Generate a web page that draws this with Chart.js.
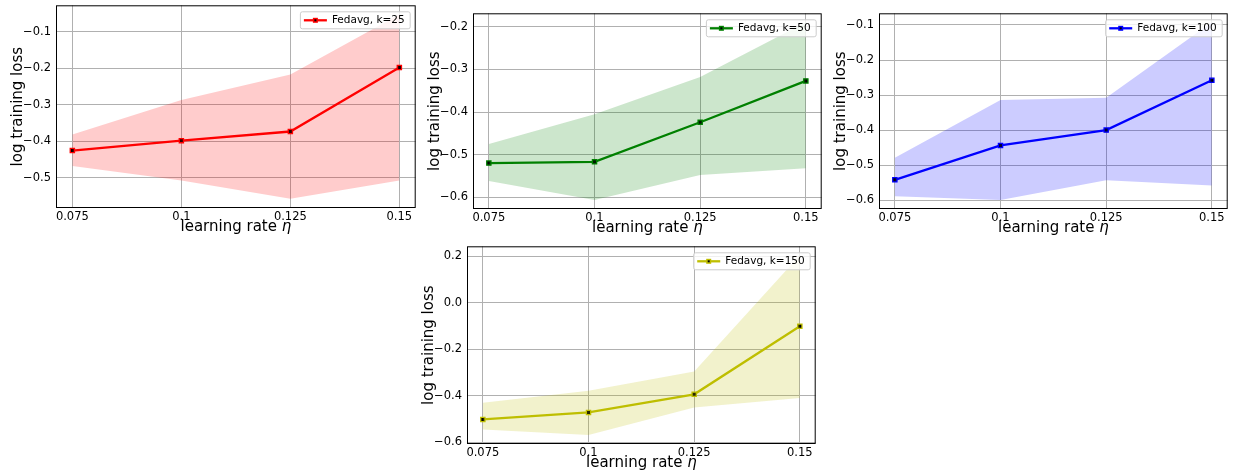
<!DOCTYPE html>
<html lang="en">
<head>
<meta charset="UTF-8">
<title>Fedavg - log training loss vs learning rate</title>
<style>
  body { margin: 0; background: #fff; width: 1233px; height: 475px; position: relative; overflow: hidden; }
  canvas { position: absolute; }
</style>
</head>
<body>
<canvas id="c25"></canvas>
<canvas id="c50"></canvas>
<canvas id="c100"></canvas>
<canvas id="c150"></canvas>

<script src="https://cdn.jsdelivr.net/npm/chart.js"></script>
<script>
// learning rates on the x axis
const etas = [0.075, 0.1, 0.125, 0.15];
const etaLabels = ['0.075', '0.1', '0.125', '0.15'];

// k = 25
const mean25  = [-0.425, -0.398, -0.373, -0.198];
const upper25 = [-0.381, -0.287, -0.217, -0.053];
const lower25 = [-0.467, -0.507, -0.557, -0.507];
const yTicks25 = [-0.5, -0.4, -0.3, -0.2, -0.1];

// k = 50
const mean50  = [-0.520, -0.517, -0.424, -0.327];
const upper50 = [-0.475, -0.405, -0.318, -0.189];
const lower50 = [-0.562, -0.607, -0.548, -0.532];
const yTicks50 = [-0.6, -0.5, -0.4, -0.3, -0.2];

// k = 100
const mean100  = [-0.542, -0.444, -0.400, -0.258];
const upper100 = [-0.479, -0.314, -0.308, -0.092];
const lower100 = [-0.589, -0.600, -0.543, -0.558];
const yTicks100 = [-0.6, -0.5, -0.4, -0.3, -0.2, -0.1];

// k = 150
const mean150  = [-0.502, -0.472, -0.394, -0.101];
const upper150 = [-0.430, -0.379, -0.296, 0.204];
const lower150 = [-0.545, -0.569, -0.451, -0.410];
const yTicks150 = [-0.6, -0.4, -0.2, 0.0, 0.2];

const panels = [
    { id: 'c25',  label: 'Fedavg, k=25',  color: '#ff0000', band: 'rgba(255,0,0,0.2)',   mean: mean25,  upper: upper25,  lower: lower25,  yTicks: yTicks25 },
    { id: 'c50',  label: 'Fedavg, k=50',  color: '#008000', band: 'rgba(0,128,0,0.2)',   mean: mean50,  upper: upper50,  lower: lower50,  yTicks: yTicks50 },
    { id: 'c100', label: 'Fedavg, k=100', color: '#0000ff', band: 'rgba(0,0,255,0.2)',   mean: mean100, upper: upper100, lower: lower100, yTicks: yTicks100 },
    { id: 'c150', label: 'Fedavg, k=150', color: '#bfbf00', band: 'rgba(191,191,0,0.2)', mean: mean150, upper: upper150, lower: lower150, yTicks: yTicks150 },
];

// plot-area rectangles on the page (layout only)
const boxes = [
    { x: 56,  y: 3,   w: 362, h: 205 },
    { x: 473, y: 11,  w: 351, h: 198 },
    { x: 879, y: 11,  w: 351, h: 198 },
    { x: 467, y: 244, w: 351, h: 200 },
];

const Y_AXIS_W = 56, PAD_TOP = 3, PAD_RIGHT = 3, X_AXIS_H = 32;
const FONT = '"DejaVu Sans", "Liberation Sans", sans-serif';

// matplotlib style 5% margins
function padRange(vals) {
    const lo = Math.min(...vals), hi = Math.max(...vals);
    const m = (hi - lo) * 0.05;
    return [lo - m, hi + m];
}

const fmt = v => v.toFixed(1).replace('-', '\u2212');

// frame, axis titles and the in-axes legend
const decorations = {
    id: 'decorations',
    afterDraw(chart, args, opts) {
        const { ctx, chartArea: a } = chart;
        ctx.save();
        ctx.strokeStyle = '#000';
        ctx.lineWidth = 1;
        ctx.strokeRect(a.left + 0.5, a.top + 0.5, a.right - a.left - 1, a.bottom - a.top - 1);

        // x title with italic eta
        ctx.fillStyle = '#000';
        ctx.textBaseline = 'alphabetic';
        ctx.font = '15px ' + FONT;
        const t1 = 'learning rate ';
        const w1 = ctx.measureText(t1).width;
        ctx.font = 'italic 15px ' + FONT;
        const w2 = ctx.measureText('\u03b7').width;
        let xs = (a.left + a.right) / 2 - (w1 + w2) / 2;
        ctx.font = '15px ' + FONT;
        ctx.textAlign = 'left';
        ctx.fillText(t1, xs, a.bottom + 23);
        ctx.font = 'italic 15px ' + FONT;
        ctx.fillText('\u03b7', xs + w1, a.bottom + 23);

        // y title
        ctx.save();
        ctx.translate(a.left - 38, (a.top + a.bottom) / 2);
        ctx.rotate(-Math.PI / 2);
        ctx.font = '15px ' + FONT;
        ctx.textAlign = 'center';
        ctx.textBaseline = 'middle';
        ctx.fillText('log training loss', 0, 0);
        ctx.restore();

        // legend
        ctx.font = '10.5px ' + FONT;
        const tw = ctx.measureText(opts.label).width;
        const bw = 4 + 23 + 5 + tw + 5, bh = 17;
        const bx = a.right - 6 - bw, by = a.top + 6;
        ctx.fillStyle = 'rgba(255,255,255,0.8)';
        ctx.strokeStyle = '#cccccc';
        ctx.beginPath();
        ctx.roundRect(bx + 0.5, by + 0.5, bw, bh, 2);
        ctx.fill();
        ctx.stroke();
        const ly = by + bh / 2 + 0.5;
        ctx.strokeStyle = opts.color;
        ctx.lineWidth = 2.3;
        ctx.beginPath();
        ctx.moveTo(bx + 4, ly);
        ctx.lineTo(bx + 27, ly);
        ctx.stroke();
        ctx.fillStyle = opts.color;
        ctx.fillRect(bx + 15.5 - 2.5, ly - 2.5, 5, 5);
        ctx.fillStyle = '#000';
        ctx.fillRect(bx + 15.5 - 1, ly - 1, 2, 2);
        ctx.textAlign = 'left';
        ctx.textBaseline = 'middle';
        ctx.fillText(opts.label, bx + 32, ly);
        ctx.restore();
    }
};

panels.forEach((p, i) => {
    const b = boxes[i];
    const canvas = document.getElementById(p.id);
    canvas.width = Y_AXIS_W + b.w + PAD_RIGHT;
    canvas.height = PAD_TOP + b.h + X_AXIS_H;
    canvas.style.left = (b.x - Y_AXIS_W) + 'px';
    canvas.style.top = (b.y - PAD_TOP) + 'px';

    const [xMin, xMax] = padRange(etas);
    const [yMin, yMax] = padRange(p.upper.concat(p.lower));

    new Chart(canvas, {
        type: 'line',
        data: {
            datasets: [
                {
                    data: etas.map((x, j) => ({ x, y: p.lower[j] })),
                    borderColor: 'rgba(0,0,0,0)', borderWidth: 0, pointRadius: 0, fill: false
                },
                {
                    data: etas.map((x, j) => ({ x, y: p.upper[j] })),
                    borderColor: 'rgba(0,0,0,0)', borderWidth: 0, pointRadius: 0,
                    backgroundColor: p.band, fill: '-1'
                },
                {
                    label: p.label,
                    data: etas.map((x, j) => ({ x, y: p.mean[j] })),
                    borderColor: p.color, borderWidth: 2.3, tension: 0, fill: false,
                    pointStyle: 'rect', pointRadius: 3,
                    pointBackgroundColor: '#000', pointBorderColor: p.color, pointBorderWidth: 1.3
                }
            ]
        },
        options: {
            responsive: false,
            animation: false,
            layout: { padding: { top: PAD_TOP, right: PAD_RIGHT, left: 0, bottom: 0 } },
            plugins: {
                legend: { display: false },
                tooltip: { enabled: false },
                decorations: { label: p.label, color: p.color }
            },
            scales: {
                x: {
                    type: 'linear', min: xMin, max: xMax,
                    afterBuildTicks: s => { s.ticks = etas.map(v => ({ value: v })); },
                    afterFit: s => { s.height = X_AXIS_H; s.paddingLeft = 0; s.paddingRight = 0; },
                    ticks: {
                        callback: (v, j) => etaLabels[j],
                        autoSkip: false, maxRotation: 0, padding: 2,
                        color: '#000', font: { family: FONT, size: 11.5 }
                    },
                    grid: { color: '#b0b0b0', lineWidth: 1, drawTicks: false },
                    border: { display: false }
                },
                y: {
                    type: 'linear', min: yMin, max: yMax,
                    afterBuildTicks: s => { s.ticks = p.yTicks.map(v => ({ value: v })); },
                    afterFit: s => { s.width = Y_AXIS_W; s.paddingTop = 0; s.paddingBottom = 0; },
                    ticks: {
                        callback: (v, j) => fmt(p.yTicks[j]),
                        padding: 5, color: '#000', font: { family: FONT, size: 11.5 }
                    },
                    grid: { color: '#b0b0b0', lineWidth: 1, drawTicks: false },
                    border: { display: false }
                }
            }
        },
        plugins: [decorations]
    });
});
</script>
</body>
</html>
